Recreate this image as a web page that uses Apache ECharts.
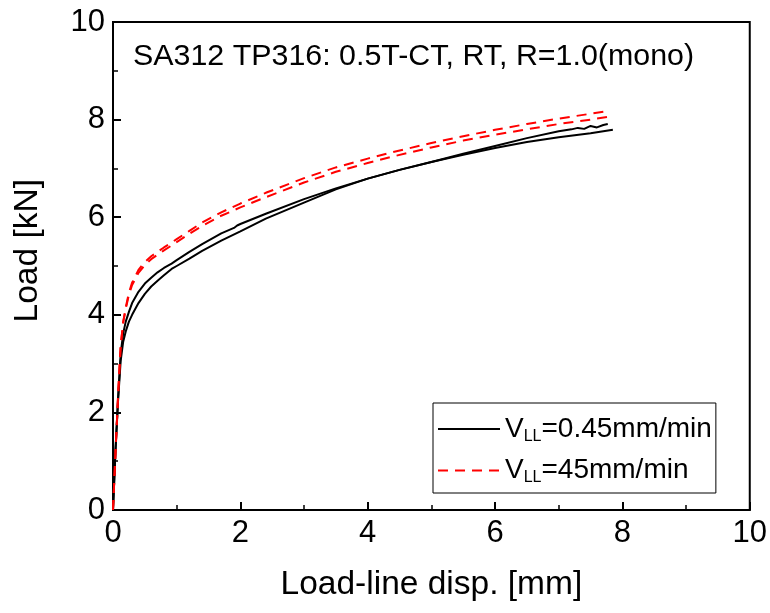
<!DOCTYPE html>
<html>
<head>
<meta charset="utf-8">
<script src="https://cdn.jsdelivr.net/npm/echarts@6/dist/echarts.min.js"></script>
<style>
  html, body { margin: 0; padding: 0; background: #fff; }
  #main { width: 770px; height: 613px; }
</style>
</head>
<body>
<div id="main"></div>
<script>
// 0.45 mm/min, test 1 (upper black, wiggly at the end)
var xBlack1 = [0, 0.04, 0.08, 0.12, 0.16, 0.2, 0.25, 0.3, 0.4, 0.5, 0.6, 0.7, 0.8, 0.92, 1.0, 1.2, 1.4, 1.7, 1.9, 1.95, 2.0, 2.4, 3.0, 3.5, 4.0, 4.5, 5.0, 5.5, 6.0, 6.5, 7.0, 7.2, 7.3, 7.4, 7.5, 7.6, 7.7, 7.77];
var yBlack1 = [0, 1.25, 2.3, 3.2, 3.62, 3.86, 4.06, 4.24, 4.47, 4.64, 4.76, 4.87, 4.96, 5.05, 5.12, 5.29, 5.45, 5.67, 5.78, 5.83, 5.86, 6.07, 6.37, 6.59, 6.79, 6.97, 7.13, 7.3, 7.46, 7.62, 7.76, 7.8, 7.83, 7.81, 7.87, 7.84, 7.89, 7.91];
// 0.45 mm/min, test 2 (lower black)
var xBlack2 = [0, 0.04, 0.08, 0.12, 0.16, 0.2, 0.25, 0.3, 0.4, 0.5, 0.6, 0.7, 0.8, 0.92, 1.0, 1.2, 1.4, 1.7, 2.0, 2.4, 3.0, 3.5, 4.0, 4.5, 5.0, 5.5, 6.0, 6.5, 7.0, 7.5, 7.85];
var yBlack2 = [0, 1.25, 2.25, 3.05, 3.45, 3.66, 3.86, 4.0, 4.24, 4.43, 4.58, 4.7, 4.81, 4.94, 5.0, 5.15, 5.31, 5.52, 5.71, 5.97, 6.3, 6.57, 6.79, 6.97, 7.13, 7.28, 7.42, 7.54, 7.64, 7.72, 7.79];
// 45 mm/min, two tests (red dashed)
var xRed = [0, 0.04, 0.08, 0.12, 0.16, 0.2, 0.25, 0.3, 0.4, 0.5, 0.6, 0.7, 0.8, 0.92, 1.0, 1.2, 1.4, 1.7, 2.0, 2.4, 3.0, 3.5, 4.0, 4.35, 5.0, 5.5, 6.0, 6.5, 7.0, 7.5, 7.8];
var yRed1 = [0, 1.2, 2.35, 3.35, 3.85, 4.15, 4.45, 4.66, 4.92, 5.08, 5.2, 5.29, 5.38, 5.48, 5.55, 5.72, 5.89, 6.1, 6.28, 6.5, 6.8, 7.02, 7.2, 7.32, 7.52, 7.66, 7.79, 7.91, 8.02, 8.12, 8.18];
var yRed2 = [0, 1.2, 2.35, 3.35, 3.85, 4.12, 4.41, 4.61, 4.86, 5.02, 5.14, 5.23, 5.32, 5.42, 5.49, 5.66, 5.82, 6.03, 6.2, 6.41, 6.71, 6.93, 7.11, 7.23, 7.43, 7.57, 7.69, 7.8, 7.91, 8.0, 8.06];

var xTicks = [0, 2, 4, 6, 8, 10];
var yTicks = [0, 2, 4, 6, 8, 10];

function pairs(xs, ys) {
    var out = [];
    for (var i = 0; i < xs.length; i++) {
        out.push([xs[i], ys[i]]);
    }
    return out;
}

var font = 'Liberation Sans, Arial, sans-serif';
var myChart = echarts.init(document.getElementById('main'));

var axisCommon = {
    min: xTicks[0],
    max: xTicks[xTicks.length - 1],
    interval: 2,
    axisLine: { show: true, lineStyle: { color: '#000', width: 2 } },
    axisTick: { show: true, inside: true, length: 8, lineStyle: { color: '#000', width: 2 } },
    minorTick: { show: true, splitNumber: 2, length: 5, lineStyle: { color: '#000', width: 1.5 } },
    splitLine: { show: false },
    axisLabel: { color: '#000', fontSize: 31, fontFamily: font, margin: 8 }
};

option = {
    animation: false,
    title: {
        text: 'SA312 TP316: 0.5T-CT, RT, R=1.0(mono)',
        left: 128,
        top: 37,
        textStyle: { fontSize: 30.4, fontWeight: 'normal', color: '#000', fontFamily: font }
    },
    grid: {
        left: 113, right: 20, top: 22, bottom: 103,
        show: true, borderColor: '#000', borderWidth: 2
    },
    legend: {
        orient: 'vertical',
        left: 433,
        top: 403,
        width: 282,
        padding: [12, 4, 7, 4],
        itemGap: 12,
        itemWidth: 62,
        itemHeight: 14,
        backgroundColor: '#fff',
        borderColor: '#000',
        borderWidth: 1,
        itemStyle: { opacity: 0 },
        data: ['V045', 'V45'],
        formatter: function (name) {
            if (name === 'V045') return '{v|V}{s|LL}{v|=0.45mm/min}';
            return '{v|V}{s|LL}{v|=45mm/min}';
        },
        textStyle: {
            color: '#000',
            rich: {
                v: { fontSize: 28, fontFamily: font, color: '#000' },
                s: { fontSize: 16, fontFamily: font, color: '#000', padding: [15, 0, 0, 0] }
            }
        }
    },
    xAxis: Object.assign({}, axisCommon, {
        type: 'value',
        name: 'Load-line disp. [mm]',
        nameLocation: 'middle',
        nameGap: 58,
        nameTextStyle: { color: '#000', fontSize: 33.5, fontFamily: font }
    }),
    yAxis: Object.assign({}, axisCommon, {
        type: 'value',
        min: yTicks[0],
        max: yTicks[yTicks.length - 1]
    }),
    graphic: [{
        type: 'text',
        left: 11,
        top: 179,
        rotation: Math.PI / 2,
        style: { text: 'Load [kN]', fill: '#000', font: '33.5px ' + font }
    }],
    series: [
        {
            name: 'V045', type: 'line', symbol: 'none',
            data: pairs(xBlack1, yBlack1),
            lineStyle: { color: '#000', width: 2 }, itemStyle: { color: '#000' }
        },
        {
            name: 'V045', type: 'line', symbol: 'none',
            data: pairs(xBlack2, yBlack2),
            lineStyle: { color: '#000', width: 2 }, itemStyle: { color: '#000' }
        },
        {
            name: 'V45', type: 'line', symbol: 'none',
            data: pairs(xRed, yRed1),
            lineStyle: { color: '#ff0000', width: 2, type: [10, 7] }, itemStyle: { color: '#ff0000' }
        },
        {
            name: 'V45', type: 'line', symbol: 'none',
            data: pairs(xRed, yRed2),
            lineStyle: { color: '#ff0000', width: 2, type: [10, 7] }, itemStyle: { color: '#ff0000' }
        }
    ]
};
myChart.setOption(option);
</script>
</body>
</html>
